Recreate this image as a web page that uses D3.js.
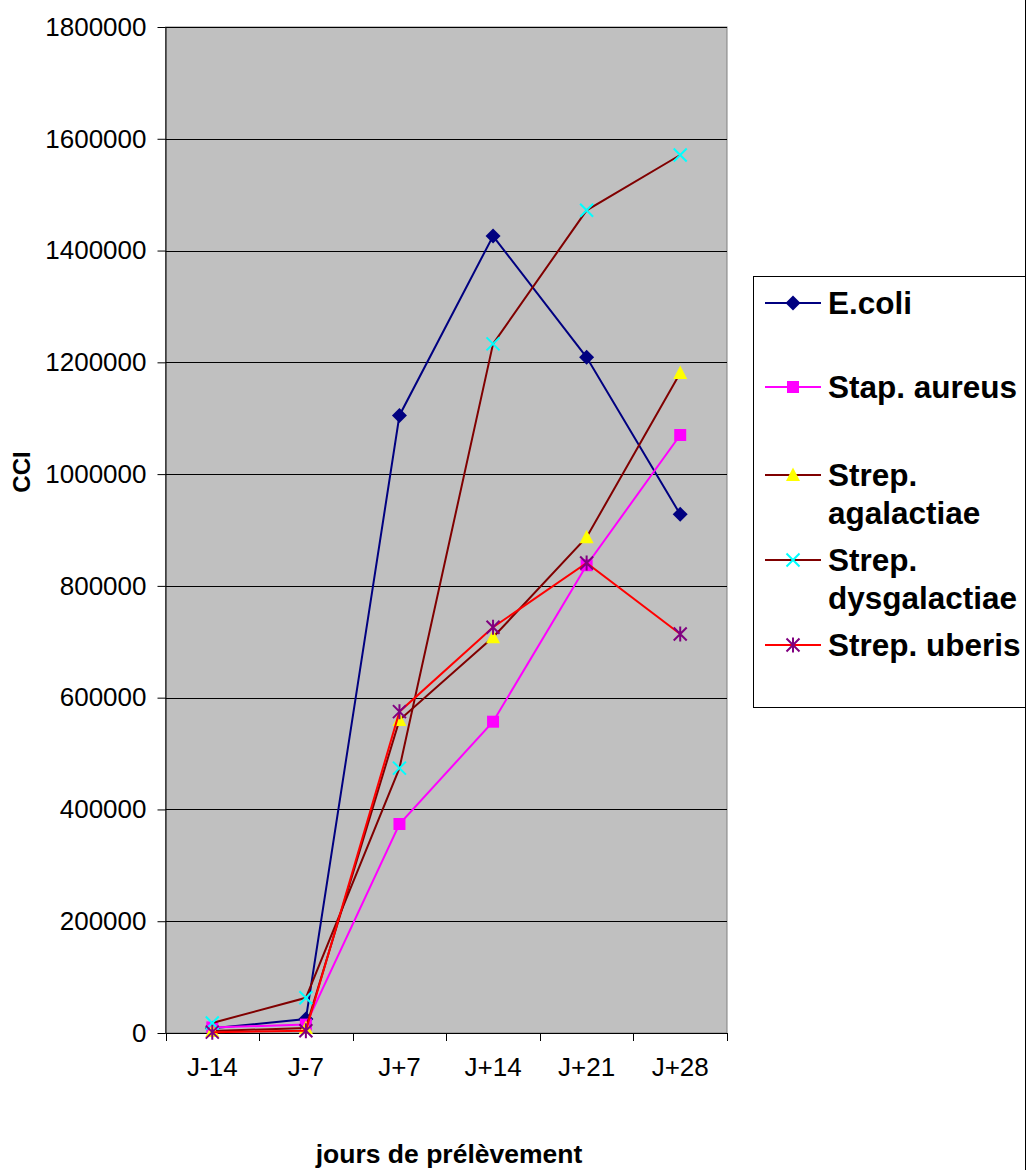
<!DOCTYPE html>
<html>
<head>
<meta charset="utf-8">
<script src="https://cdn.jsdelivr.net/npm/d3@7"></script>
<style>
  html, body { margin: 0; padding: 0; background: #fff; }
  svg { display: block; font-family: "Liberation Sans", Arial, sans-serif; }
</style>
</head>
<body>
<svg id="chart" width="1029" height="1170"></svg>
<script>
// Sampling days and CCI counts per pathogen
const categories = ["J-14", "J-7", "J+7", "J+14", "J+21", "J+28"];
const ecoli        = [8500, 25000, 1105000, 1426000, 1209000, 928000];
const staphAureus  = [10000, 15000, 374000, 557000, 837000, 1070000];
const agalactiae   = [3500, 9000, 560000, 708000, 887000, 1181000];
const dysgalactiae = [18000, 63000, 474000, 1233000, 1472000, 1571000];
const uberis       = [1500, 4000, 575000, 726000, 841000, 714000];
const yTicks = [0, 200000, 400000, 600000, 800000, 1000000, 1200000, 1400000, 1600000, 1800000];

const seriesList = [
  { name: ["E.coli"], values: ecoli, line: "#000080", marker: "diamond", fill: "#000080" },
  { name: ["Stap. aureus"], values: staphAureus, line: "#FF00FF", marker: "square", fill: "#FF00FF" },
  { name: ["Strep.", "agalactiae"], values: agalactiae, line: "#800000", marker: "triangle", fill: "#FFFF00" },
  { name: ["Strep.", "dysgalactiae"], values: dysgalactiae, line: "#800000", marker: "x", fill: "#00FFFF" },
  { name: ["Strep. uberis"], values: uberis, line: "#FF0000", marker: "star", fill: "#800080" }
];

const svg = d3.select("#chart");
const plot = { left: 165.5, right: 727, top: 27, bottom: 1033 };

const x = d3.scaleBand().domain(categories).range([plot.left, plot.right]).paddingInner(0).paddingOuter(0);
const y = d3.scaleLinear().domain([0, 1800000]).range([plot.bottom, plot.top]);
const cx = c => x(c) + x.bandwidth() / 2;

// plot background
svg.append("rect")
  .attr("x", plot.left).attr("y", plot.top)
  .attr("width", plot.right - plot.left).attr("height", plot.bottom - plot.top)
  .attr("fill", "#C0C0C0").attr("stroke", "#808080").attr("stroke-width", 1);

// horizontal gridlines
svg.append("g").selectAll("line").data(yTicks.filter(d => d > 0)).join("line")
  .attr("x1", plot.left).attr("x2", plot.right)
  .attr("y1", d => Math.round(y(d)) + 0.5).attr("y2", d => Math.round(y(d)) + 0.5)
  .attr("stroke", "#000").attr("stroke-width", 1);

// y axis
const yAxis = svg.append("g")
  .attr("transform", `translate(${plot.left},0)`)
  .call(d3.axisLeft(y).tickValues(yTicks).tickFormat(d3.format("d")).tickSize(8).tickSizeOuter(0).tickPadding(11));
yAxis.selectAll("text").attr("font-size", 26).attr("fill", "#000").attr("font-family", "Liberation Sans, Arial, sans-serif");
yAxis.selectAll("line, path").attr("stroke", "#000");

// x axis: labels at band centres, ticks at band edges
const xAxis = svg.append("g")
  .attr("transform", `translate(0,${plot.bottom})`)
  .call(d3.axisBottom(x).tickSize(0).tickPadding(25));
xAxis.select("path").attr("stroke", "#000").attr("d", `M${plot.left},0.5H${plot.right}`);
xAxis.selectAll("text").attr("font-size", 26).attr("fill", "#000").attr("font-family", "Liberation Sans, Arial, sans-serif");
const edges = categories.map(c => x(c)).concat([plot.right]);
svg.append("g").selectAll("line").data(edges).join("line")
  .attr("x1", d => Math.round(d) + 0.5).attr("x2", d => Math.round(d) + 0.5)
  .attr("y1", plot.bottom).attr("y2", plot.bottom + 8)
  .attr("stroke", "#000");

// axis titles
svg.append("text")
  .attr("transform", `translate(30,472) rotate(-90)`)
  .attr("text-anchor", "middle")
  .attr("font-size", 24).attr("font-weight", "bold").text("CCI");
svg.append("text")
  .attr("x", 449).attr("y", 1163)
  .attr("text-anchor", "middle")
  .attr("font-size", 26.5).attr("font-weight", "bold").text("jours de prélèvement");

// marker shapes
function markerPath(type) {
  switch (type) {
    case "diamond": return "M0,-7.5L7.5,0L0,7.5L-7.5,0Z";
    case "square": return "M-6,-6H6V6H-6Z";
    case "triangle": return "M0,-7.5L7,6H-7Z";
    case "x": return "M-6.5,-6.5L6.5,6.5M6.5,-6.5L-6.5,6.5";
    case "star": return "M-6.5,-6.5L6.5,6.5M6.5,-6.5L-6.5,6.5M0,-7.5V7.5";
  }
}
function drawMarker(g, s) {
  const open = s.marker === "x" || s.marker === "star";
  g.append("path").attr("d", markerPath(s.marker))
    .attr("fill", open ? "none" : s.fill)
    .attr("stroke", s.fill)
    .attr("stroke-width", open ? 2 : 0);
}

const line = d3.line().x((d, i) => cx(categories[i])).y(d => y(d));

seriesList.forEach(s => {
  const g = svg.append("g");
  g.append("path").datum(s.values).attr("d", line)
    .attr("fill", "none").attr("stroke", s.line).attr("stroke-width", 2);
  s.values.forEach((v, i) => {
    const m = g.append("g").attr("transform", `translate(${cx(categories[i])},${y(v)})`);
    drawMarker(m, s);
  });
});

// outer right border of chart area
svg.append("line").attr("x1", 1025.5).attr("x2", 1025.5).attr("y1", 0).attr("y2", 1170)
  .attr("stroke", "#000").attr("stroke-width", 1);

// legend
const legend = svg.append("g");
legend.append("rect").attr("x", 753.5).attr("y", 276.5).attr("width", 272).attr("height", 431)
  .attr("fill", "#fff").attr("stroke", "#000").attr("stroke-width", 1);
const legendRows = [303, 387, 475, 560, 645];
seriesList.forEach((s, i) => {
  const ly = legendRows[i];
  const g = legend.append("g");
  g.append("line").attr("x1", 765).attr("x2", 821).attr("y1", ly).attr("y2", ly)
    .attr("stroke", s.line).attr("stroke-width", 2);
  const m = g.append("g").attr("transform", `translate(793,${ly})`);
  drawMarker(m, s);
  const t = g.append("text").attr("x", 828).attr("y", ly + 11)
    .attr("font-size", 31.5).attr("font-weight", "bold").attr("fill", "#000");
  s.name.forEach((part, k) => {
    t.append("tspan").attr("x", 828).attr("dy", k === 0 ? 0 : 38).text(part);
  });
});
</script>
</body>
</html>
